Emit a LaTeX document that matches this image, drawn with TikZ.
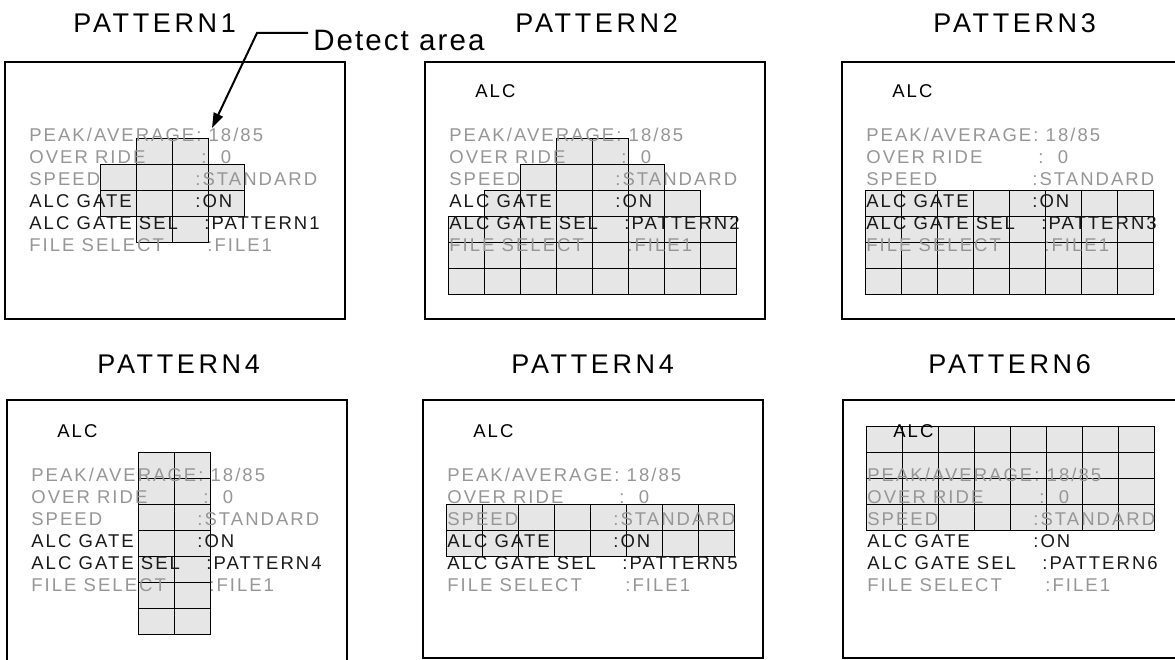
\documentclass[tikz,border=0pt]{standalone}
\usepackage{fontspec}
\usepackage{xcolor}
\usepackage{tikz}
\usetikzlibrary{arrows.meta}
\newfontfamily\osdfont[LetterSpace=11]{Liberation Sans}
\newfontfamily\ttlfont[LetterSpace=13.5]{Liberation Sans}
\newfontfamily\notefont[LetterSpace=7]{Liberation Sans}
\definecolor{osdgray}{RGB}{150,150,150}
\definecolor{osdblack}{RGB}{25,25,25}
\definecolor{cellfill}{RGB}{230,230,230}
\tikzset{every picture/.style={line width=0.75pt}}
\tikzset{
  osdframe/.style={draw=black, line width=2pt},
  cell/.style={draw=black, fill=cellfill, line width=0.9pt},
  osd/.style={inner sep=0pt, anchor=base west, text=osdgray, font=\osdfont\fontsize{18.5}{20}\selectfont},
  osdon/.style={osd, text=osdblack},
  alc/.style={osd, text=black},
  ttl/.style={inner sep=0pt, anchor=base west, font=\ttlfont\fontsize{27}{30}\selectfont},
  note/.style={inner ysep=0pt, inner xsep=5pt, anchor=base west, font=\notefont\fontsize{29.5}{32}\selectfont},
  leader/.style={line width=2pt, -{Triangle[length=15pt,width=10pt]}},
}
% one row of detect cells: x0, y0, row, first col, last col
\newcommand{\cellrow}[5]{\foreach \c in {#4,...,#5} {\draw[cell] ({#1+\c*36.1},{#2+(#3)*26}) rectangle ++(36.1,26);}}
% menu text of one screen: x, y, pattern no, name prefix
\newcommand{\osdtext}[4]{%
  \node (#4pk) [osd] at (#1+24,#2+80) {PEAK/AVERAGE: 18/85};
  \node (#4or) [osd] at (#1+24,#2+102) {OVER RIDE};
  \node (#4orv) [osd] at (#1+196,#2+102) {:\ \ 0};
  \node (#4sp) [osd] at (#1+24,#2+124) {SPEED};
  \node (#4spv) [osd] at (#1+190,#2+124) {:STANDARD};
  \node (#4gt) [osdon] at (#1+24,#2+146) {ALC GATE};
  \node (#4gtv) [osdon] at (#1+190,#2+146) {:ON};
  \node (#4sl) [osdon] at (#1+24,#2+168) {ALC GATE SEL};
  \node (#4slv) [osdon] at (#1+199,#2+168) {:PATTERN#3};
  \node (#4fl) [osd] at (#1+24,#2+190) {FILE SELECT};
  \node (#4flv) [osd] at (#1+202,#2+190) {:FILE1};
}

\begin{document}
\begin{tikzpicture}[x=1pt,y=1pt,yscale=-1,xscale=1]
    \clip (0,0) rectangle (1175,660);
    % screens
    \draw[osdframe] (5,62) rectangle (345,319);
    \draw[osdframe] (425,62) rectangle (765,319);
    \draw[osdframe] (842,62) rectangle (1182,319);
    \draw[osdframe] (7,400) rectangle (347,680);
    \draw[osdframe] (423,400) rectangle (763,658);
    \draw[osdframe] (843,400) rectangle (1183,658);
    % detect areas
    \cellrow{28}{138}{0}{3}{4}
    \cellrow{28}{138}{1}{2}{5}
    \cellrow{28}{138}{2}{2}{5}
    \cellrow{28}{138}{3}{3}{4}
    \cellrow{448}{138}{0}{3}{4}
    \cellrow{448}{138}{1}{2}{5}
    \cellrow{448}{138}{2}{1}{6}
    \foreach \r in {3,4,5} {\cellrow{448}{138}{\r}{0}{7}}
    \foreach \r in {2,...,5} {\cellrow{865}{138}{\r}{0}{7}}
    \foreach \r in {-1,...,5} {\cellrow{30}{478}{\r}{3}{4}}
    \foreach \r in {1,2} {\cellrow{446}{478}{\r}{0}{7}}
    \foreach \r in {-2,...,1} {\cellrow{866}{478}{\r}{0}{7}}
    % menu texts
    \osdtext{5}{62}{1}{a}
    \osdtext{425}{62}{2}{b}
    \osdtext{842}{62}{3}{c}
    \osdtext{7}{401}{4}{d}
    \osdtext{423}{401}{5}{e}
    \osdtext{843}{401}{6}{f}
    \node (balc) [alc] at (475,98) {ALC};
    \node (calc) [alc] at (892,98) {ALC};
    \node (dalc) [alc] at (57,437) {ALC};
    \node (ealc) [alc] at (473,437) {ALC};
    \node (falc) [alc] at (893,437) {ALC};
    % titles
    \node (t1) [ttl] at (73,33) {PATTERN1};
    \node (t2) [ttl] at (515,33) {PATTERN2};
    \node (t3) [ttl] at (933,33) {PATTERN3};
    \node (t4) [ttl] at (97,373) {PATTERN4};
    \node (t5) [ttl] at (511,373) {PATTERN4};
    \node (t6) [ttl] at (928,373) {PATTERN6};
    % detect area callout
    \node (det) [note] at (308,51) {Detect area};
    \coordinate (bend) at (257,33);
    \coordinate (tip) at (212,128);
    \draw[leader] (det.west |- bend) -- (bend) -- (tip);
\end{tikzpicture}
\end{document}
